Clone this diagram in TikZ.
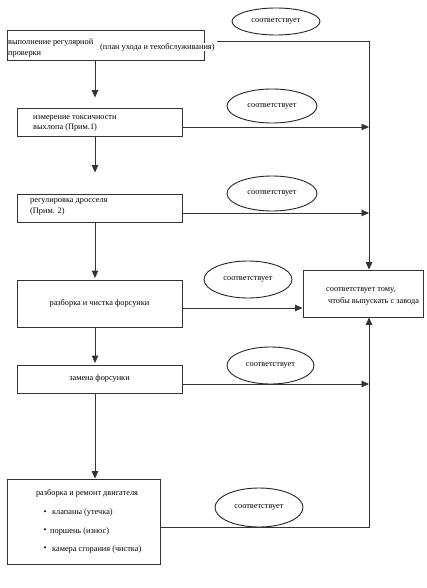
\documentclass[tikz,border=0pt]{standalone}
\usepackage{fontspec}
\setmainfont{Liberation Serif}
\usetikzlibrary{arrows.meta,shapes.geometric}
\begin{document}
\begin{tikzpicture}[x=1pt,y=-1pt,
  box/.style={draw=black!80, line width=0.9pt, inner sep=0pt, fill=white},
  oval/.style={draw=black!85, line width=0.9pt, ellipse, inner sep=0pt, font=\fontsize{8.3}{9.8}\selectfont},
  lbl/.style={font=\fontsize{8.3}{9.8}\selectfont, inner sep=0pt},
  conn/.style={draw=black!80, line width=0.9pt},
  arr/.style={conn, -{Triangle[length=7.5pt,width=6.5pt]}}]
\useasboundingbox[fill=white] (0,0) rectangle (426,588);

% boxes
\node[box, minimum width=197pt, minimum height=30pt] (b1) at (105.5,45.5) {};
\node[box, minimum width=165pt, minimum height=28pt] (b2) at (99.5,122) {};
\node[box, minimum width=165pt, minimum height=28pt] (b3) at (99.5,208) {};
\node[box, minimum width=165pt, minimum height=47pt, lbl] (b4) at (99.5,303.5) {разборка и чистка форсунки};
\node[box, minimum width=165pt, minimum height=28pt, lbl] (b5) at (99.5,379) {замена форсунки};
\node[box, minimum width=153pt, minimum height=85pt] (b6) at (83.5,521.5) {};
\node[box, minimum width=120pt, minimum height=47pt] (f) at (363,293.5) {};

% texts in boxes
\node[lbl, anchor=west] (t1a) at (8,43) {выполнение регулярной};
\node[lbl, anchor=west] (t1b) at (8,54) {проверки};
\node[lbl, anchor=west, fill=white] (t1c) at (100,47) {(план ухода и техобслуживания)};
\node[lbl, anchor=west] (t2a) at (33,118) {измерение токсичности};
\node[lbl, anchor=west] (t2b) at (33,128) {выхлопа (Прим.1)};
\node[lbl, anchor=west] (t3a) at (30,201) {регулировка дросселя};
\node[lbl, anchor=west] (t3b) at (30,212) {(Прим. 2)};
\node[lbl] (t6a) at (87,493) {разборка и ремонт двигателя};
\node[lbl] (d1) at (45,513) {\textbullet};
\node[lbl, anchor=west] (t6b) at (52,513) {клапаны (утечка)};
\node[lbl] (d2) at (45,531) {\textbullet};
\node[lbl, anchor=west] (t6c) at (50,531) {поршень (износ)};
\node[lbl] (d3) at (45,549) {\textbullet};
\node[lbl, anchor=west] (t6d) at (52,549) {камера сгорания (чистка)};
\node[lbl, anchor=west] (tfa) at (326,290) {соответствует тому,};
\node[lbl, anchor=west] (tfb) at (328,301) {чтобы выпускать с завода};

% ellipses
\node[oval, minimum width=88pt, minimum height=27pt] (e1) at (276,21.5) {соответствует};
\node[oval, minimum width=90pt, minimum height=34pt] (e2) at (272,106) {соответствует};
\node[oval, minimum width=90pt, minimum height=35pt] (e3) at (272,193.5) {соответствует};
\node[oval, minimum width=88pt, minimum height=37pt] (e4) at (248,279.5) {соответствует};
\node[oval, minimum width=87pt, minimum height=37pt] (e5) at (270.5,365.5) {соответствует};
\node[oval, minimum width=88pt, minimum height=39pt] (e6) at (259,507.5) {соответствует};

% vertical chain
\coordinate (v) at (95,0);
\coordinate (bx) at (369,0);
\draw[arr, shorten >=10pt] (b1.south -| v) -- (b2.north -| v);
\draw[arr, shorten >=21pt] (b2.south -| v) -- (b3.north -| v);
\draw[arr, shorten >=1.5pt] (b3.south -| v) -- (b4.north -| v);
\draw[arr, shorten >=1.5pt] (b4.south -| v) -- (b5.north -| v);
\draw[arr] (b5.south -| v) -- (b6.north -| v);

% to the right
\coordinate (s1) at ([xshift=13pt,yshift=4.5pt]b1.east);
\draw[arr] (s1) -| ([xshift=6pt]f.north);
\draw[arr] ([yshift=-5pt]b2.east) -- ([yshift=-5pt]b2.east -| bx);
\draw[arr] ([yshift=-5pt]b3.east) -- ([yshift=-5pt]b3.east -| bx);
\draw[arr] ([yshift=-4.5pt]b4.east) -- ([yshift=-4.5pt]b4.east -| f.west);
\draw[arr] ([yshift=-5pt]b5.east) -- ([yshift=-5pt]b5.east -| bx);
\draw[arr] ([yshift=-5.5pt]b6.east) -| ([xshift=6pt]f.south);
\end{tikzpicture}
\end{document}
